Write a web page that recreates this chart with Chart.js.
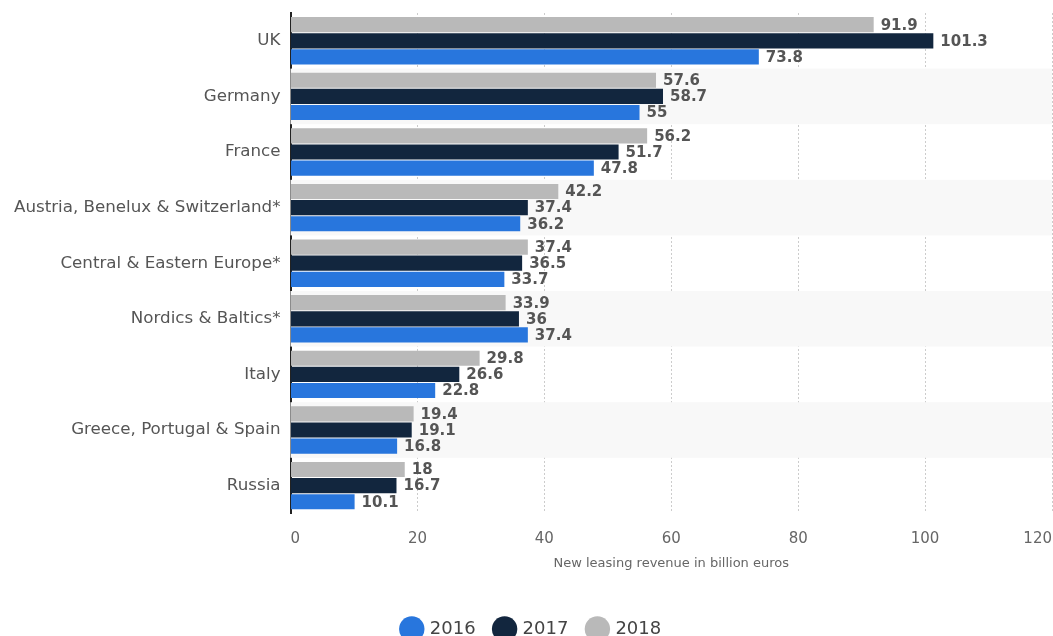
<!DOCTYPE html>
<html>
<head>
<meta charset="utf-8">
<script src="https://cdn.jsdelivr.net/npm/chart.js@4.4.0/dist/chart.umd.min.js"></script>
<style>
  html, body { margin: 0; padding: 0; background: #fff; overflow: hidden; }
  #wrap { width: 1053px; height: 636px; position: relative; }
</style>
</head>
<body>
<div id="wrap"><canvas id="leasingChart"></canvas></div>
<script>
var categories = ['UK', 'Germany', 'France', 'Austria, Benelux & Switzerland*',
    'Central & Eastern Europe*', 'Nordics & Baltics*', 'Italy',
    'Greece, Portugal & Spain', 'Russia'];
var values2016 = [73.8, 55, 47.8, 36.2, 33.7, 37.4, 22.8, 16.8, 10.1];
var values2017 = [101.3, 58.7, 51.7, 37.4, 36.5, 36, 26.6, 19.1, 16.7];
var values2018 = [91.9, 57.6, 56.2, 42.2, 37.4, 33.9, 29.8, 19.4, 18];
var xTicks = [0, 20, 40, 60, 80, 100, 120];

var fontFamily = '"DejaVu Sans", sans-serif';

// shaded rows behind every second category
var bandsPlugin = {
    id: 'bands',
    beforeDatasetsDraw: function(chart) {
        var ctx = chart.ctx, area = chart.chartArea;
        var step = (area.bottom - area.top) / categories.length;
        ctx.save();
        ctx.fillStyle = '#f8f8f8';
        for (var i = 1; i < categories.length; i += 2) {
            ctx.fillRect(area.left, area.top + step * i, area.right - area.left, step);
        }
        ctx.restore();
    }
};

// value labels at the end of each bar
var labelsPlugin = {
    id: 'barLabels',
    afterDatasetsDraw: function(chart) {
        var ctx = chart.ctx;
        ctx.save();
        ctx.font = 'bold 15px ' + fontFamily;
        ctx.fillStyle = '#555';
        ctx.textBaseline = 'middle';
        ctx.textAlign = 'left';
        chart.data.datasets.forEach(function(ds, i) {
            chart.getDatasetMeta(i).data.forEach(function(bar, j) {
                ctx.fillText(String(ds.data[j]), bar.x + 7, bar.y + 1);
            });
        });
        ctx.restore();
    }
};

new Chart(document.getElementById('leasingChart'), {
    type: 'bar',
    data: {
        labels: categories,
        datasets: [
            { label: '2018', data: values2018, backgroundColor: '#b9b9b9' },
            { label: '2017', data: values2017, backgroundColor: '#12263e' },
            { label: '2016', data: values2016, backgroundColor: '#2876dd' }
        ]
    },
    options: {
        responsive: true,
        maintainAspectRatio: false,
        animation: false,
        indexAxis: 'y',
        layout: { padding: { left: 12, right: 1, top: 13, bottom: -12 } },
        datasets: { bar: { categoryPercentage: 0.87, barPercentage: 0.94 } },
        scales: {
            x: {
                min: 0, max: 120,
                afterBuildTicks: function(axis) {
                    axis.ticks = xTicks.map(function(v) { return { value: v }; });
                },
                grid: { color: '#cccccc', drawTicks: true, tickLength: 17, tickColor: 'rgba(0,0,0,0)' },
                border: { display: false, dash: [2, 2] },
                ticks: { color: '#666', padding: 0, align: 'inner', font: { family: fontFamily, size: 15 } },
                title: {
                    display: true,
                    text: 'New leasing revenue in billion euros',
                    color: '#666',
                    padding: { top: 7, bottom: 29 },
                    font: { family: fontFamily, size: 13 }
                }
            },
            y: {
                grid: { display: false },
                border: { display: true, color: '#222', width: 2 },
                ticks: { color: '#555', padding: 2, font: { family: fontFamily, size: 16.7 } }
            }
        },
        plugins: {
            legend: {
                position: 'bottom',
                reverse: true,
                labels: {
                    usePointStyle: true,
                    pointStyle: 'circle',
                    boxWidth: 18,
                    boxHeight: 18,
                    padding: 20,
                    color: '#444',
                    font: { family: fontFamily, size: 18 }
                }
            },
            tooltip: { enabled: false }
        }
    },
    plugins: [bandsPlugin, labelsPlugin]
});
</script>
</body>
</html>
